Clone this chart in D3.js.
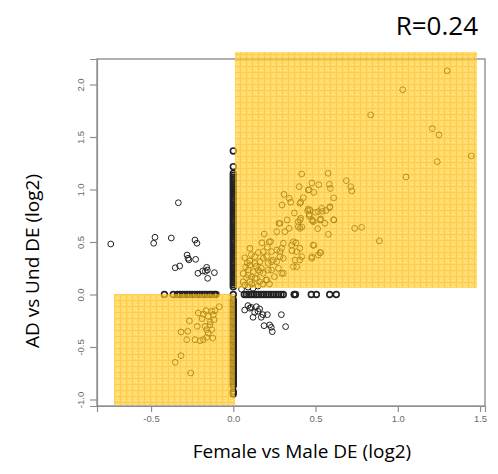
<!DOCTYPE html>
<html>
<head>
<meta charset="utf-8">
<script src="https://cdn.jsdelivr.net/npm/d3@7"></script>
<style>
  body { margin: 0; background: #fff; }
  svg { display: block; }
</style>
</head>
<body>
<script>
// tick values
var xTicks = [-0.5, 0.0, 0.5, 1.0, 1.5];
var yTicks = [-1.0, -0.5, 0.0, 0.5, 1.0, 1.5, 2.0];

// genes with change in both comparisons, one array per quadrant [x, y]
var upperRight = [[1.30,2.13],[1.03,1.95],[0.835,1.71],[1.21,1.58],[1.25,1.52],[1.447,1.32],[1.24,1.265],[1.05,1.12],[0.888,0.51],
  [0.576,1.154],[0.687,1.084],[0.714,1.027],[0.72,0.986],[0.61,0.92],[0.584,1.05],[0.59,1.01],[0.738,0.63],[0.78,0.64],[0.578,0.573],
  [0.416,1.148],[0.478,1.062],[0.52,1.046],[0.46,0.998],[0.489,0.973],[0.426,0.922],[0.41,0.88],[0.456,0.814],[0.50,0.783],[0.541,0.792],
  [0.563,0.80],[0.586,0.827],[0.462,0.764],[0.485,0.703],[0.531,0.719],[0.557,0.678],[0.61,0.712],[0.513,0.627],[0.49,0.468],[0.531,0.40],
  [0.416,0.643],[0.41,0.726],[0.308,0.954],[0.34,0.916],[0.349,0.878],[0.296,0.852],[0.371,0.776],[0.405,0.868],[0.40,1.027],[0.278,0.678],
  [0.328,0.71],[0.339,0.63],[0.395,0.693],[0.405,0.63],[0.264,0.598],[0.227,0.503],[0.188,0.576],[0.174,0.493],[0.207,0.45],[0.101,0.44],
  [0.152,0.40],[0.182,0.408],[0.233,0.408],[0.264,0.424],[0.294,0.44],[0.365,0.503],[0.381,0.493],[0.357,0.417],[0.405,0.44],[0.304,0.345],
  [0.284,0.36],[0.243,0.329],[0.213,0.297],[0.182,0.345],[0.162,0.313],[0.132,0.297],[0.101,0.281],[0.091,0.233],[0.122,0.217],[0.152,0.233],
  [0.182,0.202],[0.213,0.233],[0.112,0.17],[0.142,0.154],[0.101,0.122],[0.203,0.138],[0.304,0.202],[0.385,0.265],[0.375,0.329],[0.416,0.36],
  [0.477,0.36],[0.517,0.376],[0.486,0.471],[0.477,0.71],[0.527,0.71],[0.466,0.805],[0.456,0.995],[0.537,0.821],[0.588,0.836],
  [0.219,0.503],[0.203,0.36],[0.233,0.313],[0.091,0.186],[0.162,0.217],[0.112,0.10],[0.132,0.154],[0.198,0.138],[0.233,0.233],[0.274,0.249],
  [0.294,0.202],[0.264,0.313],[0.284,0.408],[0.304,0.488],[0.355,0.471],[0.385,0.408],[0.405,0.329],[0.365,0.265],[0.477,0.345],[0.527,0.398],
  [0.612,0.71],[0.486,0.693],[0.395,0.646],[0.313,0.598],[0.284,0.678],[0.405,0.71],[0.452,0.798],[0.517,0.789],[0.462,0.748],
  [0.06,0.12],[0.07,0.09],[0.08,0.16],[0.06,0.2],[0.075,0.26],[0.09,0.07],[0.12,0.06],[0.1,0.32],[0.07,0.35],[0.14,0.27],
  [0.16,0.12],[0.18,0.1],[0.13,0.36],[0.11,0.38],[0.05,0.05],[0.085,0.3],[0.15,0.08],[0.17,0.25],[0.25,0.17],[0.22,0.1]];
var upperLeft = [[-0.745,0.481],[-0.334,0.874],[-0.476,0.545],[-0.484,0.488],[-0.377,0.538],[-0.233,0.519],[-0.221,0.488],[-0.281,0.376],
  [-0.275,0.345],[-0.27,0.33],[-0.229,0.335],[-0.353,0.255],[-0.326,0.271],[-0.215,0.202],[-0.186,0.224],[-0.162,0.259],[-0.158,0.233],
  [-0.115,0.208],[-0.156,0.154],[-0.17,0.22]];
var lowerRight = [[0.089,-0.106],[0.069,-0.148],[0.109,-0.122],[0.14,-0.116],[0.16,-0.138],[0.13,-0.17],[0.12,-0.217],[0.18,-0.192],
  [0.207,-0.192],[0.17,-0.217],[0.292,-0.192],[0.187,-0.297],[0.221,-0.29],[0.231,-0.312],[0.237,-0.354],[0.318,-0.306],[0.1,-0.13],[0.15,-0.16]];
var lowerLeft = [[-0.085,-0.116],[-0.111,-0.154],[-0.131,-0.16],[-0.166,-0.154],[-0.213,-0.176],[-0.182,-0.186],[-0.122,-0.192],[-0.152,-0.208],
  [-0.117,-0.24],[-0.267,-0.25],[-0.219,-0.303],[-0.172,-0.303],[-0.142,-0.288],[-0.162,-0.335],[-0.131,-0.335],[-0.152,-0.367],[-0.318,-0.357],
  [-0.277,-0.35],[-0.283,-0.43],[-0.233,-0.43],[-0.202,-0.44],[-0.182,-0.43],[-0.125,-0.414],[-0.162,-0.408],[-0.318,-0.583],[-0.353,-0.646],
  [-0.259,-0.748],[-0.14,-0.26],[-0.19,-0.23]];

// genes changed in one comparison only (sit on the axes)
var onXAxis = [-0.419,-0.365,-0.34,-0.325,-0.31,-0.295,-0.28,-0.265,-0.25,-0.235,-0.22,-0.205,-0.19,-0.175,-0.16,-0.145,-0.13,-0.115,-0.105,
  0.0,0.067,0.08,0.095,0.11,0.125,0.14,0.155,0.17,0.185,0.2,0.215,0.23,0.245,0.26,0.275,0.29,0.304,0.37,0.378,0.474,0.505,0.586,0.626];
var onYAxis = [1.367,1.217,1.154,1.135,1.115,1.095,1.075,1.055,1.035,1.015,0.995,0.975,0.955,0.935,0.915,0.895,0.875,0.855,0.835,0.815,
  0.795,0.775,0.755,0.735,0.715,0.695,0.675,0.655,0.635,0.615,0.595,0.575,0.555,0.535,0.515,0.495,0.475,0.455,0.435,0.415,0.395,0.375,
  0.355,0.335,0.315,0.295,0.275,0.255,0.235,0.215,0.195,0.175,0.155,0.135,0.115,0.095,0.074,
  -0.052,-0.07,-0.09,-0.11,-0.13,-0.15,-0.17,-0.19,-0.21,-0.23,-0.25,-0.27,-0.29,-0.31,-0.33,-0.35,-0.37,-0.39,-0.41,-0.43,-0.45,
  -0.47,-0.49,-0.51,-0.53,-0.55,-0.57,-0.59,-0.61,-0.63,-0.65,-0.67,-0.69,-0.71,-0.73,-0.75,-0.77,-0.79,-0.81,-0.83,-0.85,-0.87,-0.926,-0.948];

// concordant regions highlighted in yellow: [x0, x1, y0, y1]
var highlights = [[0.01, 1.481, 0.062, 2.31], [-0.725, 0.01, -1.052, 0.005]];

var width = 498, height = 474;
var svg = d3.select('body').append('svg')
    .attr('width', width)
    .attr('height', height);

var x = d3.scaleLinear().domain([-0.8286, 1.5301]).range([97, 485]);
var y = d3.scaleLinear().domain([-1.0619, 2.2429]).range([406, 59]);

// pattern for the yellow boxes
var defs = svg.append('defs');
var pat = defs.append('pattern')
    .attr('id', 'yel')
    .attr('patternUnits', 'userSpaceOnUse')
    .attr('width', 6).attr('height', 6);
pat.append('rect').attr('width', 6).attr('height', 6).attr('fill', '#ffc91e');
pat.append('rect').attr('width', 6).attr('height', 1).attr('fill', '#ffb400');
pat.append('rect').attr('width', 1).attr('height', 6).attr('fill', '#ffb400');
pat.append('rect').attr('x', 3).attr('y', 2).attr('width', 1).attr('height', 1).attr('fill', '#ffe27a');
pat.append('rect').attr('x', 2).attr('y', 4).attr('width', 1).attr('height', 1).attr('fill', '#ffe27a');
pat.append('rect').attr('x', 4).attr('y', 4).attr('width', 1).attr('height', 1).attr('fill', '#ffe27a');

// box
svg.append('rect')
    .attr('x', x.range()[0]).attr('y', y.range()[1])
    .attr('width', x.range()[1] - x.range()[0])
    .attr('height', y.range()[0] - y.range()[1])
    .attr('fill', 'none')
    .attr('stroke', '#8f8f8f')
    .attr('stroke-width', 1.4);

// axes
var xAxis = svg.append('g')
    .attr('transform', 'translate(0,' + y.range()[0] + ')')
    .call(d3.axisBottom(x).tickValues(xTicks).tickSize(6).tickPadding(3));
var yAxis = svg.append('g')
    .attr('transform', 'translate(' + x.range()[0] + ',0)')
    .call(d3.axisLeft(y).tickValues(yTicks).tickSize(7).tickPadding(3));
[xAxis, yAxis].forEach(function(g){
    g.select('.domain').attr('stroke', '#8f8f8f').attr('stroke-width', 1.2);
    g.selectAll('.tick line').attr('stroke', '#8f8f8f').attr('stroke-width', 1.2);
    g.selectAll('.tick text')
        .attr('fill', '#6a6a6a')
        .style('font-family', 'Liberation Sans, Arial, sans-serif')
        .style('font-size', '9.5px')
        .text(function(d){ return d3.format('.1f')(d).replace('\u2212', '-'); });
});
yAxis.selectAll('.tick text')
    .attr('x', null).attr('dy', null)
    .attr('text-anchor', 'middle')
    .attr('transform', 'translate(-13,0) rotate(-90)');

// points
function drawPoints(data, sw){
    svg.append('g').selectAll('circle')
        .data(data)
        .enter()
        .append('circle')
        .attr('cx', function(d){ return x(d[0]); })
        .attr('cy', function(d){ return y(d[1]); })
        .attr('r', 2.9)
        .attr('fill', 'none')
        .attr('stroke', '#222')
        .attr('stroke-width', sw);
}
drawPoints([].concat(upperRight, upperLeft, lowerRight, lowerLeft), 1.0);
drawPoints([].concat(onXAxis.map(function(v){ return [v, 0]; }),
    onYAxis.map(function(v){ return [0, v]; })), 1.6);

// yellow overlays
svg.append('g').attr('opacity', 0.68).selectAll('rect')
    .data(highlights)
    .enter()
    .append('rect')
    .attr('x', function(d){ return x(d[0]); })
    .attr('y', function(d){ return y(d[3]); })
    .attr('width', function(d){ return x(d[1]) - x(d[0]); })
    .attr('height', function(d){ return y(d[2]) - y(d[3]); })
    .attr('fill', 'url(#yel)');

// labels
var font = 'Open Sans, Liberation Sans, sans-serif';
svg.append('text')
    .attr('x', 478).attr('y', 35)
    .attr('text-anchor', 'end')
    .style('font-family', font).style('font-size', '26px')
    .text('R=0.24');
svg.append('text')
    .attr('x', 302).attr('y', 458)
    .attr('text-anchor', 'middle')
    .style('font-family', font).style('font-size', '19px')
    .text('Female vs Male DE (log2)');
svg.append('text')
    .attr('transform', 'translate(39,261) rotate(-90)')
    .attr('text-anchor', 'middle')
    .style('font-family', font).style('font-size', '19px')
    .text('AD vs Und DE (log2)');
</script>
</body>
</html>
